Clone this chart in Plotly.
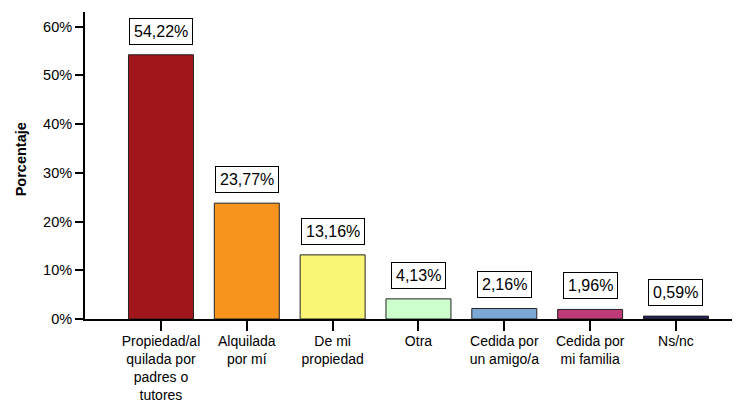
import plotly.graph_objects as go

categories = ["Propiedad/al<br>quilada por<br>padres o<br>tutores", "Alquilada<br>por mí",
              "De mi<br>propiedad", "Otra", "Cedida por<br>un amigo/a",
              "Cedida por<br>mi familia", "Ns/nc"]
values = [54.22, 23.77, 13.16, 4.13, 2.16, 1.96, 0.59]
labels = ["54,22%", "23,77%", "13,16%", "4,13%", "2,16%", "1,96%", "0,59%"]
colors = ["#A0161B", "#F7941D", "#FAF575", "#CCFFCC", "#7BA7D4", "#BE3A78", "#22225A"]
y_ticks = [0, 10, 20, 30, 40, 50, 60]
y_tick_text = ["0%", "10%", "20%", "30%", "40%", "50%", "60%"]

font_name = "Liberation Sans, Arial, sans-serif"

fig = go.Figure(go.Bar(
    x=list(range(len(categories))), y=values,
    marker=dict(color=colors, line=dict(color="#222222", width=1)),
    width=0.757, showlegend=False, hoverinfo="y"
))

for i, (v, t) in enumerate(zip(values, labels)):
    fig.add_annotation(x=i, y=v, text=t, showarrow=False, yanchor="bottom", yshift=10,
                       font=dict(size=16, color="black", family=font_name),
                       bordercolor="black", borderwidth=1, borderpad=4, bgcolor="white")

fig.add_annotation(xref="paper", yref="paper", x=0, y=0.52, xshift=-64, xanchor="center",
                   yanchor="middle", text="<b>Porcentaje</b>", textangle=-90, showarrow=False,
                   font=dict(size=14.5, color="black", family=font_name))

# the page body adds an 8px offset, so the figure is 8px smaller than the window
fig.update_layout(
    width=732, height=394,
    plot_bgcolor="white", paper_bgcolor="white",
    margin=dict(l=77, r=0, t=4, b=83),
    font=dict(family=font_name, size=14, color="black"),
    xaxis=dict(range=[-0.885, 6.746], tickvals=list(range(len(categories))), ticktext=categories,
               showline=True, linecolor="black", linewidth=1.5, ticks="outside", ticklen=10,
               tickwidth=2, tickcolor="black", showgrid=False, zeroline=False,
               tickfont=dict(size=14), ticklabelstandoff=-2, automargin=False),
    yaxis=dict(range=[0, 63], tickmode="array", tickvals=y_ticks, ticktext=y_tick_text,
               showline=True, linecolor="black",
               linewidth=2, ticks="outside", ticklen=8, tickwidth=2, tickcolor="black",
               showgrid=False, zeroline=False, tickfont=dict(size=14.5), automargin=False),
)

fig.write_html("out.html")
